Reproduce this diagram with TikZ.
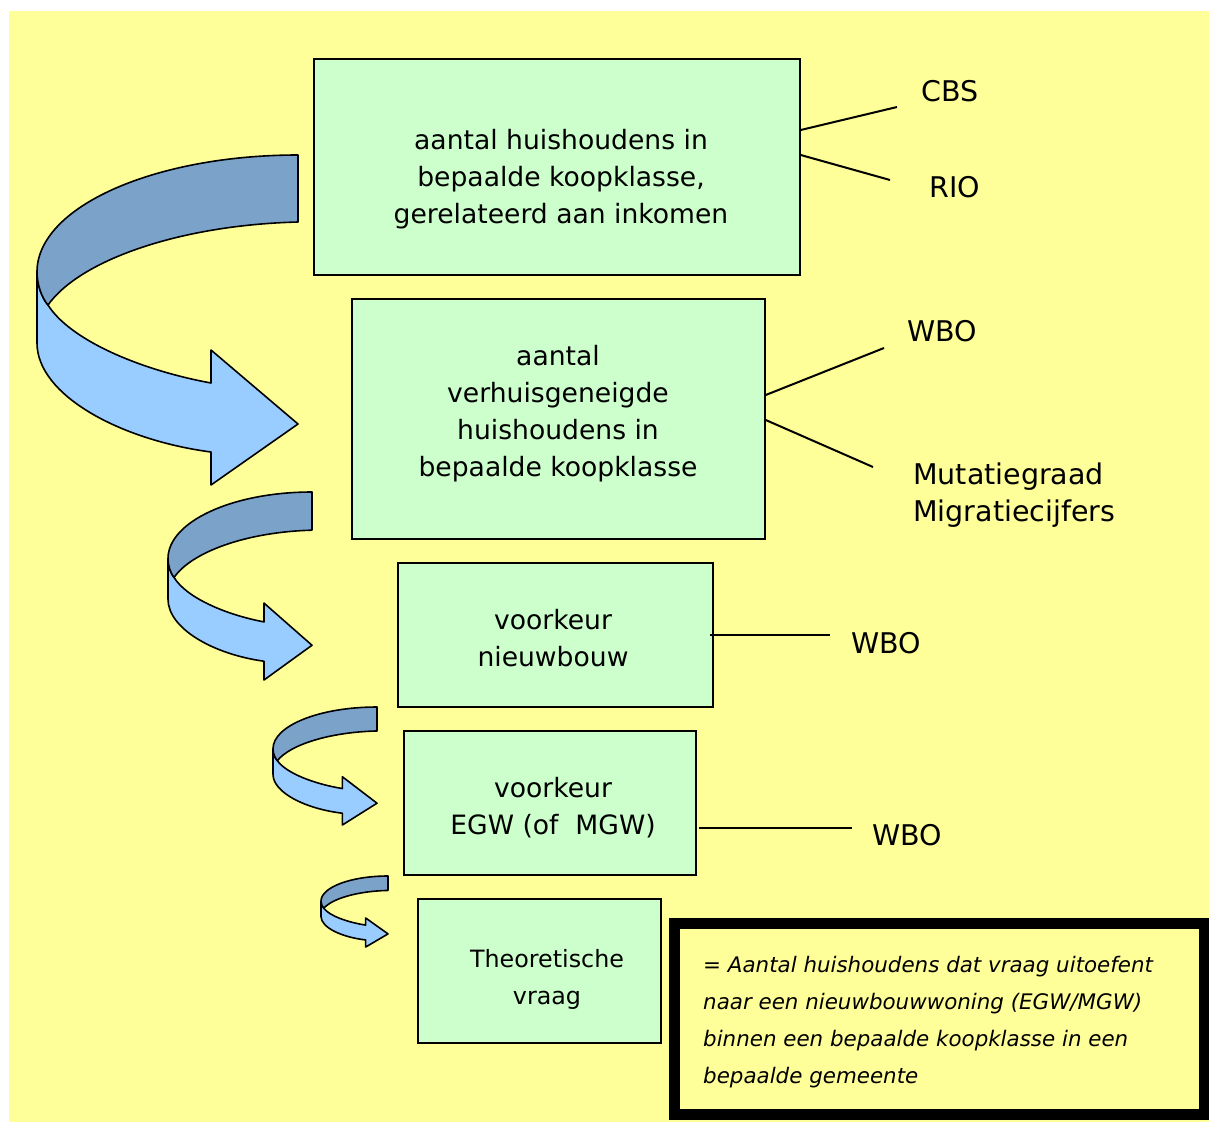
\documentclass[tikz,border=0pt]{standalone}
\usepackage{fontspec}
\setmainfont{DejaVu Sans}
\definecolor{bgyellow}{HTML}{FFFF99}
\definecolor{boxgreen}{HTML}{CCFFCC}
\definecolor{arrowdark}{HTML}{7BA3CA}
\definecolor{arrowlight}{HTML}{99CCFF}
\newcommand{\bendarrow}[4]{%
 \begin{scope}[shift={(#1,#2)}, xscale=#3, yscale=#4, shift={(-37,-155)}]
   \draw[arrowline, fill=arrowlight] (37,272) -- (37,343) .. controls (37,395) and (120,440) .. (211,452) -- (211,485) -- (298,424) -- (211,350) -- (211,383) .. controls (140,370) and (70,340) .. (48,305) .. controls (42,298) and (37,285) .. (37,272) -- cycle;
   \draw[arrowline, fill=arrowdark] (298,155) .. controls (154,155) and (37,207) .. (37,272) .. controls (37,285) and (42,298) .. (48,305) .. controls (80,260) and (180,225) .. (298,222) -- cycle;
 \end{scope}}
\begin{document}
\begin{tikzpicture}[x=1pt,y=-1pt,
  stage/.style={draw=black, line width=1.5pt, fill=boxgreen, inner sep=0pt},
  txt/.style={font=\fontsize{26.6}{37}\selectfont, align=center, inner sep=0pt},
  smalltxt/.style={font=\fontsize{23.8}{37}\selectfont, align=center, inner sep=0pt},
  lbl/.style={font=\fontsize{28.5}{37}\selectfont, inner sep=0pt},
  notetxt/.style={font=\fontsize{21.4}{37}\selectfont\itshape, align=left, inner sep=0pt},
  link/.style={draw=black, line width=2pt},
  arrowline/.style={draw=black, line width=1.6pt, line join=round}
]
\useasboundingbox (0,0) rectangle (1209,1122);
\fill[bgyellow] (9,11) rectangle (1209,1122);

% curved arrows
\bendarrow{37}{155}{1}{1}
\bendarrow{168}{492}{0.5517}{0.5697}
\bendarrow{273}{707}{0.3985}{0.3576}
\bendarrow{321}{876}{0.2567}{0.2152}

% boxes
\node[stage, minimum width=486, minimum height=216] (b1) at (557,167) {};
\node[txt] (t1) at (561,179) {aantal huishoudens in\\bepaalde koopklasse,\\gerelateerd aan inkomen};
\node[stage, minimum width=413, minimum height=240] (b2) at (558.5,419) {};
\node[txt] (t2) at (558,414) {aantal\\verhuisgeneigde\\huishoudens in\\bepaalde koopklasse};
\node[stage, minimum width=315, minimum height=144] (b3) at (555.5,635) {};
\node[txt] (t3) at (553,638) {voorkeur\\nieuwbouw};
\node[stage, minimum width=292, minimum height=144] (b4) at (550,803) {};
\node[txt] (t4) at (553,808) {voorkeur\\EGW (of\ \ MGW)};
\node[stage, minimum width=243, minimum height=144] (b5) at (539.5,971) {};
\node[smalltxt] (t5) at (547,979) {Theoretische\\vraag};

% note box
\node[draw=black, line width=11pt, fill=bgyellow, minimum width=530, minimum height=191, inner sep=0pt] (note) at (939.5,1018.5) {};
\node[notetxt, anchor=west] (notetext) at (703,1022.5) {= Aantal huishoudens dat vraag uitoefent\\naar een nieuwbouwwoning (EGW/MGW)\\binnen een bepaalde koopklasse in een\\bepaalde gemeente};

% labels
\node[lbl] (cbs) at (950,91) {CBS};
\node[lbl] (rio) at (955,187) {RIO};
\node[lbl] (wbo1) at (942,331) {WBO};
\node[lbl, align=left, anchor=west] (mut) at (913,495) {Mutatiegraad\\Migratiecijfers};
\node[lbl] (wbo2) at (886,643) {WBO};
\node[lbl] (wbo3) at (907,835) {WBO};

% connector ends
\coordinate (e1) at (897,107);
\coordinate (e2) at (890,180);
\coordinate (e3) at (884,348);
\coordinate (e4) at (873,467);
\coordinate (e5) at (830,635);
\coordinate (e6) at (852,828);

\draw[link] ([yshift=37pt]b1.east) -- (e1);
\draw[link] ([yshift=12pt]b1.east) -- (e2);
\draw[link] ([yshift=24pt]b2.east) -- (e3);
\draw[link] ([yshift=-1pt]b2.east) -- (e4);
\draw[link] ([xshift=-4pt]b3.east) -- (e5);
\draw[link] ([xshift=2pt,yshift=-25pt]b4.east) -- (e6);
\end{tikzpicture}
\end{document}
